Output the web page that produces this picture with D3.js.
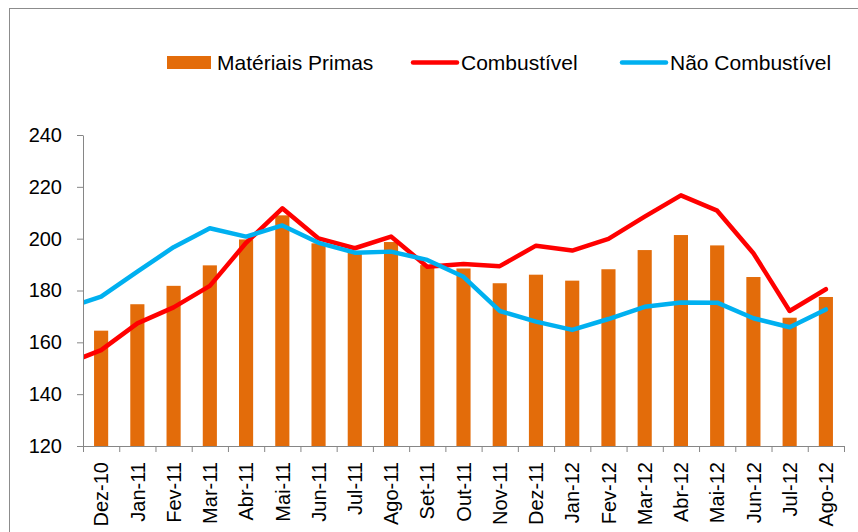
<!DOCTYPE html>
<html>
<head>
<meta charset="utf-8">
<script src="https://cdn.jsdelivr.net/npm/d3@7"></script>
<style>
  body { margin: 0; background: #fff; }
  text { font-family: "Liberation Sans", Arial, sans-serif; fill: #000; }
</style>
</head>
<body>
<script>
const months = ["Dez-10", "Jan-11", "Fev-11", "Mar-11", "Abr-11", "Mai-11", "Jun-11",
  "Jul-11", "Ago-11", "Set-11", "Out-11", "Nov-11", "Dez-11", "Jan-12", "Fev-12",
  "Mar-12", "Abr-12", "Mai-12", "Jun-12", "Jul-12", "Ago-12"];

// bars
const materiaisPrimas = [164.5, 174.7, 181.8, 189.7, 199.7, 209.0, 198.2, 194.6, 198.7,
  189.8, 188.5, 182.8, 186.1, 183.8, 188.2, 195.6, 201.4, 197.4, 185.2, 169.5, 177.5];

// lines; the first value is the month before Dez-10, cut off by the plot edge
const combustivel = [151.5, 157.0, 167.3, 173.5, 181.8, 198.4, 211.7, 200.1, 196.3, 200.8,
  189.2, 190.2, 189.4, 197.3, 195.4, 199.9, 208.5, 216.7, 210.8, 194.4, 172.1, 180.5];
const naoCombustivel = [173.1, 177.6, 187.3, 196.7, 204.0, 200.8, 205.1, 198.4, 194.6, 195.0,
  191.8, 185.3, 172.1, 168.0, 164.8, 169.0, 173.7, 175.4, 175.3, 169.3, 165.8, 172.7];

const yTicks = [120, 140, 160, 180, 200, 220, 240];
const legendLabels = ["Matériais Primas", "Combustível", "Não Combustível"];

const width = 858, height = 532;
const margin = { top: 135, right: 14, bottom: 86, left: 83 };
const colors = { bar: "#E36C0A", red: "#FF0000", blue: "#00B0F0", axis: "#868686" };

const svg = d3.select("body").append("svg")
  .attr("width", width)
  .attr("height", height);

// outer frame
svg.append("rect")
  .attr("x", 9.5).attr("y", 8.5)
  .attr("width", width).attr("height", height)
  .attr("fill", "none")
  .attr("stroke", "#8c8c8c")
  .attr("stroke-width", 1);

const xScale = d3.scaleBand().domain(months).range([margin.left, width - margin.right]);
const yScale = d3.scaleLinear().domain([120, 240]).range([height - margin.bottom, margin.top]);
const bw = xScale.bandwidth();
const barW = bw * 0.39;

svg.append("defs").append("clipPath").attr("id", "plot")
  .append("rect")
  .attr("x", margin.left).attr("y", 0)
  .attr("width", width - margin.right - margin.left)
  .attr("height", height - margin.bottom);

// bars
svg.append("g")
  .selectAll("rect")
  .data(materiaisPrimas)
  .join("rect")
  .attr("x", (d, i) => xScale(months[i]) + (bw - barW) / 2)
  .attr("y", d => yScale(d))
  .attr("width", barW)
  .attr("height", d => yScale(120) - yScale(d))
  .attr("fill", colors.bar);

// lines
const lineX = i => xScale(months[0]) + (i - 0.5) * bw;
const line = d3.line()
  .x((d, i) => lineX(i))
  .y(d => yScale(d));

[[combustivel, colors.red], [naoCombustivel, colors.blue]].forEach(([data, c]) => {
  svg.append("path")
    .attr("clip-path", "url(#plot)")
    .attr("d", line(data))
    .attr("fill", "none")
    .attr("stroke", c)
    .attr("stroke-width", 4.5)
    .attr("stroke-linejoin", "round")
    .attr("stroke-linecap", "round");
});

// y axis
const yAxis = svg.append("g")
  .attr("transform", `translate(${margin.left},0)`)
  .call(d3.axisLeft(yScale).tickValues(yTicks).tickSize(6).tickPadding(15).tickSizeOuter(0));
yAxis.selectAll("text").attr("font-size", 20).attr("font-family", null);

// x axis: tick marks at band edges
const edge = d3.scaleLinear().domain([0, months.length]).range(xScale.range());
svg.append("g")
  .attr("transform", `translate(0,${height - margin.bottom})`)
  .call(d3.axisBottom(edge).tickValues(d3.range(months.length + 1)).tickFormat("").tickSize(6).tickSizeOuter(0));

// x axis labels
const xAxis = svg.append("g")
  .attr("transform", `translate(0,${height - margin.bottom})`)
  .call(d3.axisBottom(xScale).tickSize(0).tickSizeOuter(0));
xAxis.select(".domain").remove();
xAxis.selectAll("text")
  .attr("font-size", 20)
  .attr("font-family", null)
  .attr("transform", "rotate(-90)")
  .attr("text-anchor", "end")
  .attr("x", -16)
  .attr("y", 0)
  .attr("dy", "0.36em");

svg.selectAll(".domain, .tick line").attr("stroke", colors.axis);

// legend
const legendX = [167, 411, 620];
const legend = svg.append("g");
legendLabels.forEach((name, i) => {
  const g = legend.append("g").attr("transform", `translate(${legendX[i]},62.5)`);
  if (i === 0) {
    g.append("rect").attr("x", 0).attr("y", -6.5).attr("width", 44).attr("height", 13).attr("fill", colors.bar);
  } else {
    g.append("line").attr("x1", 2).attr("x2", 46).attr("y1", 0).attr("y2", 0)
      .attr("stroke", i === 1 ? colors.red : colors.blue)
      .attr("stroke-width", 4.5).attr("stroke-linecap", "round");
  }
  g.append("text")
    .attr("x", 50)
    .attr("y", 0)
    .attr("dy", "0.35em")
    .attr("font-size", 21)
    .text(name);
});
</script>
</body>
</html>
